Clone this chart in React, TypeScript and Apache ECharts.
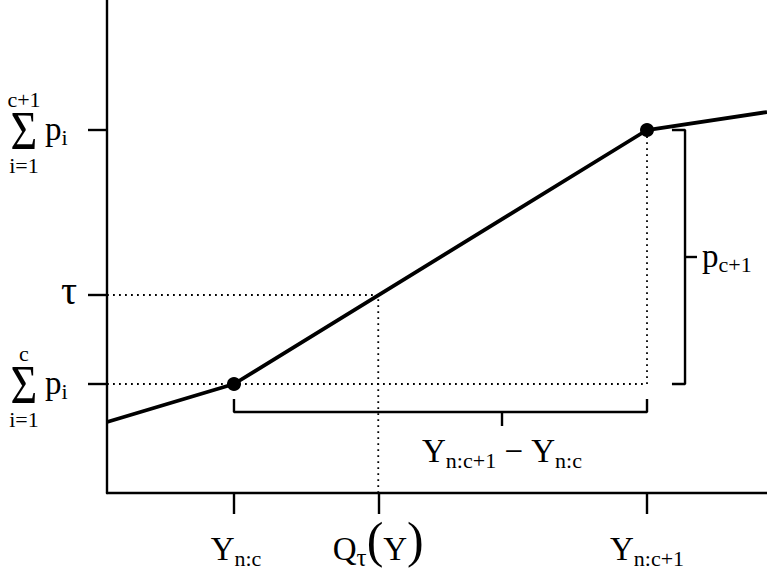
import React, { useEffect, useRef } from "react";
import * as echarts from "echarts";

// Piecewise-linear interpolated CDF (data units: x and y in [0,1])
const curveX = [0, 0.1924, 0.8182, 1];
const curveY = [0.144, 0.2211, 0.7363, 0.7728];
// Knots: (Y_{n:c}, sum_c p_i) and (Y_{n:c+1}, sum_{c+1} p_i)
const knotX = [0.1924, 0.8182];
const knotY = [0.2211, 0.7363];
const tau = 0.4016;
const qTau = 0.411;
// Tick positions
const xTicks = [0.1924, 0.411, 0.8182];
const yTicks = [0.2211, 0.4016, 0.7363];
// Bracket annotation anchors
const rightBracketX = [0.856, 0.8758, 0.8939]; // end, spine, tick
const bottomBracketY = [0.1907, 0.1643, 0.1359]; // end, spine, tick
const bottomBracketTickX = 0.5985;

const FONT = '"Liberation Serif", "Times New Roman", serif';
const MAIN = 33;
const SUB = 22;

type Piece = { t: string; fs: number; dy: number };

let measureCtx: CanvasRenderingContext2D | null = null;
function textWidth(t: string, fs: number): number {
  if (!measureCtx) measureCtx = document.createElement("canvas").getContext("2d");
  if (!measureCtx) return t.length * fs * 0.5;
  measureCtx.font = `${fs}px "Liberation Serif"`;
  return measureCtx.measureText(t).width;
}

function txt(t: string, fs: number, x: number, baseline: number, align = "left"): any {
  return {
    type: "text",
    x,
    y: baseline - 0.3375 * fs,
    silent: true,
    style: {
      text: t,
      fontSize: fs,
      fontFamily: FONT,
      fill: "#000",
      align,
      verticalAlign: "middle",
      textAlign: align,
      textVerticalAlign: "middle",
    },
  };
}

function row(pieces: Piece[], anchorX: number, baseline: number, anchor: "left" | "center" | "right"): any[] {
  const widths = pieces.map((p) => textWidth(p.t, p.fs));
  const total = widths.reduce((a, b) => a + b, 0);
  let x = anchor === "center" ? anchorX - total / 2 : anchor === "right" ? anchorX - total : anchorX;
  const out: any[] = [];
  pieces.forEach((p, i) => {
    out.push(txt(p.t, p.fs, x, baseline + p.dy));
    x += widths[i];
  });
  return out;
}

function sumLabel(top: string, axisX: number, T: number): any[] {
  const cx = axisX - 83;
  const sigma = {
    type: "text",
    x: cx,
    y: T + 1,
    scaleY: 1.2,
    silent: true,
    style: {
      text: "Σ",
      fontSize: 46,
      fontFamily: FONT,
      fill: "#000",
      align: "center",
      verticalAlign: "middle",
      textAlign: "center",
      textVerticalAlign: "middle",
    },
  };
  return [
    sigma,
    ...row([{ t: top, fs: SUB, dy: 0 }], cx, T - 23, "center"),
    ...row([{ t: "i=1", fs: SUB, dy: 0 }], cx, T + 43, "center"),
    ...row(
      [
        { t: "p", fs: MAIN, dy: 0 },
        { t: "i", fs: SUB, dy: 5 },
      ],
      axisX - 62,
      T + 10,
      "left"
    ),
  ];
}

export default function App() {
  const ref = useRef<HTMLDivElement>(null);

  useEffect(() => {
    if (!ref.current) return;
    const chart = echarts.init(ref.current, undefined, { renderer: "svg" });
    const black = "#000";
    const dotted = { color: black, width: 1.8, type: [1.8, 4.2] as any };
    const seg = (data: number[][], lineStyle: any, z = 2) => ({
      type: "line",
      data,
      symbol: "none",
      silent: true,
      clip: false,
      z,
      lineStyle,
    });

    chart.setOption({
      animation: false,
      grid: { left: 107, right: 0, top: 0, bottom: 80 },
      xAxis: {
        type: "value",
        min: 0,
        max: 1,
        axisLine: { show: true, lineStyle: { color: black, width: 2.4 } },
        axisTick: { show: true, length: 21, customValues: xTicks, lineStyle: { color: black, width: 2.4 } },
        axisLabel: { show: false },
        splitLine: { show: false },
      },
      yAxis: {
        type: "value",
        min: 0,
        max: 1,
        axisLine: { show: true, lineStyle: { color: black, width: 2.4 } },
        axisTick: { show: true, length: 19, customValues: yTicks, lineStyle: { color: black, width: 2.4 } },
        axisLabel: { show: false },
        splitLine: { show: false },
      },
      series: [
        // dotted guides
        seg([[0, knotY[0]], [knotX[1], knotY[0]]], dotted, 1),
        seg([[0, tau], [qTau, tau]], dotted, 1),
        seg([[qTau, 0], [qTau, tau]], dotted, 1),
        seg([[knotX[1], knotY[0]], [knotX[1], knotY[1]]], dotted, 1),
        // brackets
        seg(
          [
            [rightBracketX[0], knotY[1]],
            [rightBracketX[1], knotY[1]],
            [rightBracketX[1], knotY[0]],
            [rightBracketX[0], knotY[0]],
          ],
          { color: black, width: 2.4 }
        ),
        seg(
          [
            [rightBracketX[1], (knotY[0] + knotY[1]) / 2],
            [rightBracketX[2], (knotY[0] + knotY[1]) / 2],
          ],
          { color: black, width: 2.4 }
        ),
        seg(
          [
            [knotX[0], bottomBracketY[0]],
            [knotX[0], bottomBracketY[1]],
            [knotX[1], bottomBracketY[1]],
            [knotX[1], bottomBracketY[0]],
          ],
          { color: black, width: 2.4 }
        ),
        seg(
          [
            [bottomBracketTickX, bottomBracketY[1]],
            [bottomBracketTickX, bottomBracketY[2]],
          ],
          { color: black, width: 2.4 }
        ),
        // curve
        seg(
          curveX.map((x, i) => [x, curveY[i]]),
          { color: black, width: 3.8 },
          3
        ),
        {
          type: "scatter",
          data: knotX.map((x, i) => [x, knotY[i]]),
          symbol: "circle",
          symbolSize: 14,
          itemStyle: { color: black, opacity: 1 },
          silent: true,
          z: 4,
        },
      ],
    });

    const px = (x: number, y: number) => chart.convertToPixel({ gridIndex: 0 }, [x, y]) as number[];
    const origin = px(0, 0);
    const axisX = origin[0];
    const axisY = origin[1];
    const xLabBase = axisY + 67;

    const g: any[] = [];
    // x tick labels
    g.push(
      ...row(
        [
          { t: "Y", fs: MAIN, dy: 0 },
          { t: "n:c", fs: SUB, dy: 6 },
        ],
        px(xTicks[0], 0)[0] + 2,
        xLabBase,
        "center"
      )
    );
    g.push(
      ...row(
        [
          { t: "Q", fs: MAIN, dy: 0 },
          { t: "τ", fs: 25, dy: 6 },
          { t: "(", fs: 50, dy: -3 },
          { t: "Y", fs: MAIN, dy: 0 },
          { t: ")", fs: 50, dy: -3 },
        ],
        px(xTicks[1], 0)[0],
        xLabBase,
        "center"
      )
    );
    g.push(
      ...row(
        [
          { t: "Y", fs: MAIN, dy: 0 },
          { t: "n:c+1", fs: SUB, dy: 6 },
        ],
        px(xTicks[2], 0)[0],
        xLabBase,
        "center"
      )
    );
    // y tick labels
    g.push(...sumLabel("c", axisX, px(0, yTicks[0])[1]));
    g.push(...row([{ t: "τ", fs: 40, dy: 0 }], axisX - 30, px(0, yTicks[1])[1] + 9, "right"));
    g.push(...sumLabel("c+1", axisX, px(0, yTicks[2])[1]));

    // bracket labels
    const rMid = px(rightBracketX[2], (knotY[0] + knotY[1]) / 2);
    g.push(
      ...row(
        [
          { t: "p", fs: MAIN, dy: 0 },
          { t: "c+1", fs: SUB, dy: 5 },
        ],
        rMid[0] + 5,
        rMid[1] + 10,
        "left"
      )
    );
    const bMid = px(bottomBracketTickX, bottomBracketY[2]);
    g.push(
      ...row(
        [
          { t: "Y", fs: MAIN, dy: 0 },
          { t: "n:c+1", fs: SUB, dy: 6 },
          { t: " − ", fs: MAIN, dy: 0 },
          { t: "Y", fs: MAIN, dy: 0 },
          { t: "n:c", fs: SUB, dy: 6 },
        ],
        bMid[0],
        bMid[1] + 36,
        "center"
      )
    );

    chart.setOption({ graphic: g });

    return () => chart.dispose();
  }, []);

  return (
    <div
      ref={ref}
      style={{ position: "fixed", left: 0, top: 0, width: 767, height: 573, background: "#fff" }}
    />
  );
}
